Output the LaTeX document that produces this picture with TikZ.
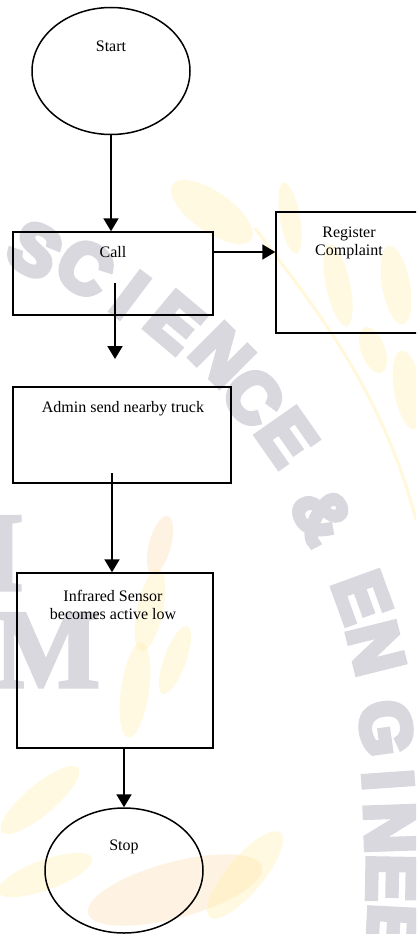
\documentclass[tikz,border=0pt]{standalone}
\usepackage{fontspec}
\setmainfont{Liberation Serif}
\newfontfamily\wmsans{Liberation Sans}[FakeBold=8]
\newfontfamily\wmserifface{Liberation Serif}[FakeBold=3]
\usetikzlibrary{arrows.meta,shapes.geometric}
\definecolor{wmgray}{RGB}{216,216,222}
\definecolor{wmyellow}{RGB}{255,236,150}
\definecolor{wmorange}{RGB}{252,210,140}

\begin{document}
\begin{tikzpicture}[x=1pt,y=-1pt,
  every node/.style={font=\fontsize{16}{18.5}\selectfont},
  box/.style={draw, line width=1.5pt, inner sep=0pt},
  oval/.style={draw, ellipse, line width=1.5pt, inner sep=0pt,
    minimum width=158pt, minimum height=127pt},
  lbl/.style={inner sep=0pt, align=center},
  arr/.style={line width=2pt, -{Triangle[length=13pt,width=15pt]}},
  wmletter/.style={text=wmgray, inner sep=0pt,
    font=\wmsans\bfseries\fontsize{70}{70}\selectfont},
  wmserif/.style={text=wmgray, inner sep=0pt,
    font=\wmserifface\bfseries\fontsize{112}{112}\selectfont},
  leafy/.style={fill=wmyellow, opacity=0.28},
  leafo/.style={fill=wmorange, opacity=0.25}]

\useasboundingbox (0,0) rectangle (416,934);
\clip (0,0) rectangle (416,934);
\fill[white] (0,0) rectangle (416,934);

% faint background emblem: leaves
\fill[leafy, rotate around={-35:(212,212)}] (212,212) ellipse [x radius=48, y radius=20];
\fill[leafy, rotate around={-80:(290,218)}] (290,218) ellipse [x radius=36, y radius=10];
\fill[leafy, rotate around={-78:(338,285)}] (338,285) ellipse [x radius=42, y radius=12];
\fill[leafy, rotate around={-80:(396,285)}] (396,285) ellipse [x radius=40, y radius=14];
\fill[leafy, rotate around={-70:(373,350)}] (373,350) ellipse [x radius=24, y radius=12];
\fill[leafy, rotate around={-80:(408,390)}] (408,390) ellipse [x radius=40, y radius=14];
\draw[wmyellow, opacity=0.35, line width=3pt] (255,228) .. controls (300,290) and (380,380) .. (416,520);
\fill[leafo, rotate around={75:(160,545)}] (160,545) ellipse [x radius=30, y radius=11];
\fill[leafy, rotate around={78:(150,610)}] (150,610) ellipse [x radius=42, y radius=13];
\fill[leafy, rotate around={82:(135,690)}] (135,690) ellipse [x radius=48, y radius=14];
\fill[leafy, rotate around={70:(175,660)}] (175,660) ellipse [x radius=36, y radius=11];
\fill[leafy, rotate around={40:(40,800)}] (40,800) ellipse [x radius=50, y radius=15];
\fill[leafy, rotate around={20:(45,875)}] (45,875) ellipse [x radius=50, y radius=15];
\fill[leafo, rotate around={15:(175,890)}] (175,890) ellipse [x radius=90, y radius=28];
\fill[leafy, rotate around={50:(245,875)}] (245,875) ellipse [x radius=55, y radius=18];

% faint background emblem: lettering
\node[wmletter, rotate=-30] (w1)  at (35,250)  {S};
\node[wmletter, rotate=-33] (w2)  at (85,268)  {C};
\node[wmletter, rotate=-37] (w3)  at (130,295) {I};
\node[wmletter, rotate=-40] (w4)  at (175,322) {E};
\node[wmletter, rotate=-45] (w5)  at (222,355) {N};
\node[wmletter, rotate=-52] (w6)  at (253,397) {C};
\node[wmletter, rotate=-55] (w7)  at (287,437) {E};
\node[wmletter, rotate=-62] (w8)  at (322,515) {\&};
\node[wmletter, rotate=-70] (w9)  at (362,597) {E};
\node[wmletter, rotate=-76] (w10) at (376,648) {N};
\node[wmletter, rotate=-82] (w11) at (386,728) {G};
\node[wmletter, rotate=-86] (w12) at (388,780) {I};
\node[wmletter, rotate=-88] (w13) at (390,828) {N};
\node[wmletter, rotate=-91] (w14) at (392,878) {E};
\node[wmletter, rotate=-93] (w15) at (393,928) {E};
\node[wmserif, anchor=base east] (w16) at (24,590) {I};
\node[wmserif, anchor=base west] (w17) at (-6,687) {M};

% flowchart shapes
\node[oval] (start) at (111,71) {};
\node[box, minimum width=200pt, minimum height=83pt] (call) at (113,273.5) {};
\node[box, minimum width=146pt, minimum height=121pt] (reg) at (349,272.5) {};
\node[box, minimum width=218pt, minimum height=96pt] (admin) at (122,435) {};
\node[box, minimum width=196pt, minimum height=175pt] (ir) at (115,660.5) {};
\node[oval, minimum height=125pt] (stop) at (124,870.5) {};

% labels
\node[lbl] (starttxt) at (111,46) {Start};
\node[lbl] (calltxt) at (113,252) {Call};
\node[lbl] (regtxt) at (349,243) {Register\\Complaint};
\node[lbl] (admintxt) at (123,409) {Admin send nearby truck};
\node[lbl] (irtxt) at (113,605) {Infrared Sensor\\becomes active low};
\node[lbl] (stoptxt) at (124,847) {Stop};

% connectors
\coordinate (c1s) at (115,283);
\coordinate (c1e) at (115,359);
\coordinate (a2s) at (112,473);
\draw[arr] (start.south) -- (start.south |- call.north);
\draw[arr] (call.east |- calltxt) -- (reg.west |- calltxt);
\draw[arr] (c1s) -- (c1e);
\draw[arr] (a2s) -- (a2s |- ir.north);
\draw[arr] (stop.north |- ir.south) -- (stop.north);
\end{tikzpicture}
\end{document}
